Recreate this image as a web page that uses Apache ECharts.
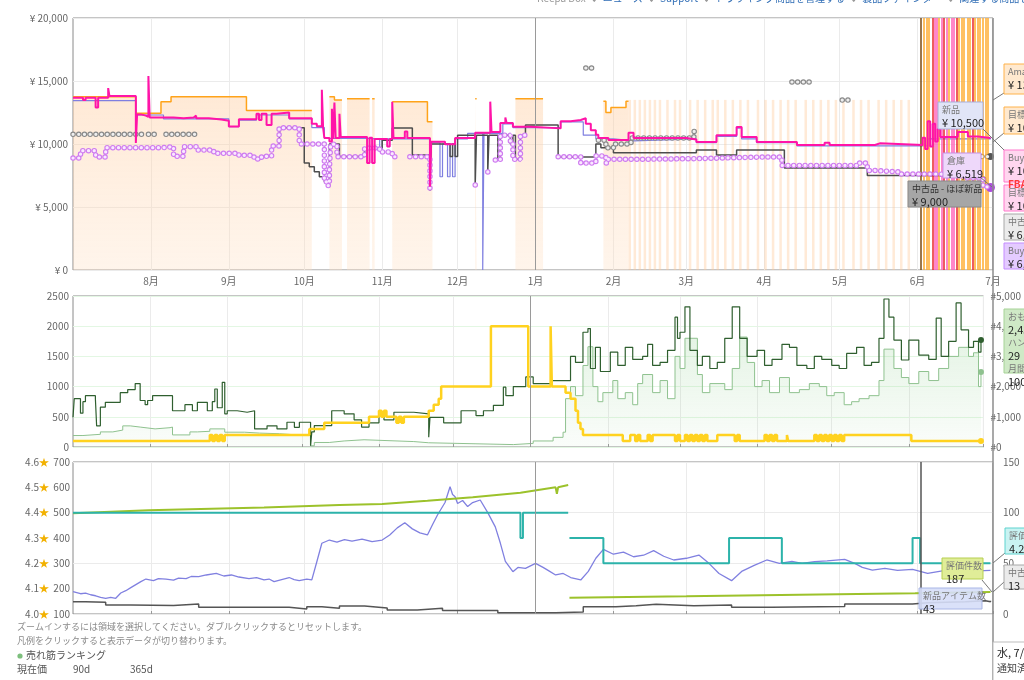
<!DOCTYPE html>
<html lang="ja">
<head>
<meta charset="UTF-8">
<title>価格推移</title>
<script src="https://cdn.jsdelivr.net/npm/echarts@6/dist/echarts.min.js"></script>
<style>
  html, body { margin: 0; padding: 0; background: #fff; overflow: hidden; }
  #chart { width: 1024px; height: 680px; }
</style>
</head>
<body>
<div id="chart"></div>
<script>
// ---- axis ticks ----
const X_MIN = '2023-07-01';
const X_MAX = '2024-07-01';
const monthTicks = ['2023-08-01', '2023-09-01', '2023-10-01', '2023-11-01', '2023-12-01', '2024-01-01',
  '2024-02-01', '2024-03-01', '2024-04-01', '2024-05-01', '2024-06-01', '2024-07-01'];
const monthLabels = ['8月', '9月', '10月', '11月', '12月', '1月', '2月', '3月', '4月', '5月', '6月', '7月'];

// ---- price panel (yen) ----
const amazonPrice = [
  ['2023-07-01', 13750], ['2023-07-26', 12450], ['2023-08-05', 13360], ['2023-08-09', 13750],
  ['2023-09-08', 12650], ['2023-10-04', 12650], ['2023-10-04', null],
  ['2023-10-11', 13750], ['2023-10-13', 13500], ['2023-10-16', 13500], ['2023-10-16', null],
  ['2023-10-18', 13600], ['2023-10-27', 13600], ['2023-10-27', null],
  ['2023-10-28', 13600], ['2023-10-29', 13600], ['2023-10-29', null],
  ['2023-11-05', 13360], ['2023-11-19', 11770], ['2023-11-21', 11770], ['2023-11-21', null],
  ['2023-12-08', 13600], ['2023-12-08 14:00', 13600], ['2023-12-08 14:00', null],
  ['2023-12-24', 13600], ['2024-01-04', 13600], ['2024-01-04', null],
  ['2024-01-28', 13400], ['2024-01-29', 12500], ['2024-01-31', 12900], ['2024-02-06', 13400],
  ['2024-02-07', 13400], ['2024-02-07', null]
];
const amazonStockStripes = [
  ['2024-02-07', '2024-02-08'], ['2024-02-09', '2024-02-10'], ['2024-02-11', '2024-02-12'], ['2024-02-13', '2024-02-14'],
  ['2024-02-15', '2024-02-16'], ['2024-02-17', '2024-02-18'], ['2024-02-19', '2024-02-20'], ['2024-02-22', '2024-02-23'],
  ['2024-02-25', '2024-02-26'], ['2024-02-27', '2024-02-28'], ['2024-03-02', '2024-03-03'], ['2024-03-05', '2024-03-06'],
  ['2024-03-08', '2024-03-09'], ['2024-03-11', '2024-03-12'], ['2024-03-13', '2024-03-14'], ['2024-03-16', '2024-03-17'],
  ['2024-03-19', '2024-03-20'], ['2024-03-22', '2024-03-23'], ['2024-03-25', '2024-03-26'], ['2024-03-29', '2024-03-30'],
  ['2024-04-01', '2024-04-02'], ['2024-04-04', '2024-04-05'], ['2024-04-07', '2024-04-08'], ['2024-04-10', '2024-04-11'],
  ['2024-04-13', '2024-04-14'], ['2024-04-17', '2024-04-18'], ['2024-04-20', '2024-04-21'], ['2024-04-23', '2024-04-24'],
  ['2024-04-26', '2024-04-27'], ['2024-04-29', '2024-04-30'], ['2024-05-02', '2024-05-03'], ['2024-05-06', '2024-05-07'],
  ['2024-05-09', '2024-05-10'], ['2024-05-12', '2024-05-13'], ['2024-05-16', '2024-05-17'], ['2024-05-19', '2024-05-20'],
  ['2024-05-22', '2024-05-23'], ['2024-05-25', '2024-05-26'], ['2024-05-28', '2024-05-29']
];
const amazonStockSpikes = ['2024-06-03 14:00', '2024-06-04 12:00', '2024-06-05 14:00', '2024-06-09 12:00',
  '2024-06-13 12:00', '2024-06-17 07:00', '2024-06-18 12:00', '2024-06-19 12:00', '2024-06-20 19:00',
  '2024-06-21 22:00', '2024-06-23 17:00', '2024-06-24 19:00', '2024-06-25 22:00', '2024-06-26 22:00',
  '2024-06-28 02:00', '2024-06-29 00:00'];
const buyBoxSpikes = ['2024-06-07 19:00', '2024-06-08 14:00', '2024-06-10 12:00', '2024-06-12 12:00',
  '2024-06-14 14:00', '2024-06-15 12:00'];
const lightningDeals = ['2024-06-06 22:00', '2024-06-11 12:00', '2024-06-16 12:00', '2024-06-22 19:00'];
const outOfStockMark = ['2024-06-02 07:00'];
const yearMark = ['2024-01-01'];

const newPrice = [
  ['2023-07-01', 13450], ['2023-07-26', 12300], ['2023-08-06', 12000], ['2023-09-01', 11380], ['2023-09-05', 11900],
  ['2023-09-12', 12300], ['2023-09-25', 12000], ['2023-10-04', 11300], ['2023-10-09', 10450], ['2023-10-26', 10400],
  ['2023-10-31', 9400], ['2023-11-01', 10400], ['2023-11-20', 10100], ['2023-11-24', 7400], ['2023-11-25', 10000],
  ['2023-11-27', 7400], ['2023-11-28', 10000], ['2023-11-29', 7400], ['2023-11-30', 10400], ['2023-12-05', 10850],
  ['2023-12-11', 0], ['2023-12-11 12:00', 10850], ['2023-12-19', 11600], ['2023-12-23', 11300], ['2024-01-11', 11750],
  ['2024-01-20', 10700], ['2024-01-25', 10400], ['2024-02-01', 10250], ['2024-02-09', 10400], ['2024-03-05', 10100],
  ['2024-03-13', 10600], ['2024-03-21', 11250], ['2024-03-23', 10400], ['2024-03-29', 10100], ['2024-04-14', 9850],
  ['2024-06-01', 9850], ['2024-06-05', 10400], ['2024-06-30', 10500]
];
const buyBoxPrice = [
  ['2023-07-01', 13680], ['2023-07-05', 13500], ['2023-07-06', 13680], ['2023-07-10', 12900], ['2023-07-11', 13680],
  ['2023-07-15', 14440], ['2023-07-15 12:00', 13800], ['2023-07-26', 10080], ['2023-07-26 12:00', 12350],
  ['2023-07-28', 12250], ['2023-07-30', 12150], ['2023-07-31', 15400], ['2023-07-31 12:00', 12100],
  ['2023-08-10', 12050], ['2023-08-14', 12100], ['2023-08-18', 12250], ['2023-08-19', 12050], ['2023-08-24', 11950],
  ['2023-08-29', 11850], ['2023-09-01', 11380], ['2023-09-05', 11960], ['2023-09-12', 12400], ['2023-09-13', 11900],
  ['2023-09-14', 12400], ['2023-09-16', 11500], ['2023-09-18', 12400], ['2023-09-20', 12500], ['2023-09-25', 12040],
  ['2023-10-04', 11600], ['2023-10-06', 11400], ['2023-10-08', 14300], ['2023-10-08 12:00', 11300],
  ['2023-10-09', 10480], ['2023-10-11', 10200], ['2023-10-12', 12800], ['2023-10-12 12:00', 10400],
  ['2023-10-13', 13300], ['2023-10-13 12:00', 10480], ['2023-10-15', 12400], ['2023-10-15 12:00', 10550],
  ['2023-10-26', 8500], ['2023-10-27', 10500], ['2023-10-28', 8500], ['2023-10-29', 10400], ['2023-11-03', 9800],
  ['2023-11-04', 10400], ['2023-11-05', 13360], ['2023-11-05 12:00', 10480], ['2023-11-10', 11000],
  ['2023-11-11', 10480], ['2023-11-20', 6600], ['2023-11-20 12:00', 10180], ['2023-11-26', 9990],
  ['2023-11-30', 10480], ['2023-12-08', 10900], ['2023-12-14', 13360], ['2023-12-14 12:00', 10950],
  ['2023-12-18', 11660], ['2023-12-20', 12100], ['2023-12-20 12:00', 11660], ['2023-12-23', 11370],
  ['2023-12-30', 11240], ['2024-01-11', 11800], ['2024-01-15', 11900], ['2024-01-19', 12040], ['2024-01-21', 11600],
  ['2024-01-23', 11100], ['2024-01-25', 10740], ['2024-01-26', 10480], ['2024-01-30', 10320], ['2024-02-07', 10900],
  ['2024-02-09', 10480], ['2024-03-01', 10350], ['2024-03-05', 10160], ['2024-03-13', 10700], ['2024-03-21', 11350],
  ['2024-03-23', 10550], ['2024-03-29', 10160], ['2024-04-14', 9920], ['2024-04-25', 10100], ['2024-04-27', 9920],
  ['2024-05-15', 10050], ['2024-05-17', 9920], ['2024-06-03', 10500], ['2024-06-04', 9600], ['2024-06-05', 11800],
  ['2024-06-06', 9800], ['2024-06-07', 11600], ['2024-06-08', 10200], ['2024-06-09', 11200], ['2024-06-10', 10560],
  ['2024-06-17', 10950], ['2024-06-21', 10600], ['2024-06-25', 10480], ['2024-06-30', 10480]
];
const usedPrice = [
  ['2023-09-21', 10000], ['2023-09-21 06:00', 11290], ['2023-09-29', 11290], ['2023-10-01', 8500],
  ['2023-10-03', 8200], ['2023-10-05', 7800], ['2023-10-07', 7400], ['2023-10-09', 7000], ['2023-10-10', 6750],
  ['2023-10-11', 10000], ['2023-10-15', 9000], ['2023-10-25', 9700], ['2023-11-01', 10300], ['2023-11-05', 11270],
  ['2023-11-13', 9130], ['2023-11-20', 6300], ['2023-11-20 12:00', 10000], ['2023-11-28', 9000],
  ['2023-11-29', 10000], ['2023-11-30', 9000], ['2023-12-01', 10690], ['2023-12-08', 6750],
  ['2023-12-08 12:00', 10700], ['2023-12-13', 7780], ['2023-12-13 12:00', 10700], ['2023-12-17', 8730],
  ['2023-12-18', 10700], ['2023-12-22', 10000], ['2023-12-23', 10700], ['2023-12-24', 8780], ['2023-12-26', 10700],
  ['2023-12-28', 11500], ['2024-01-10', 8970], ['2024-01-25', 10000], ['2024-01-27', 9700], ['2024-02-01', 9300],
  ['2024-03-05', 9520], ['2024-03-13', 9130], ['2024-03-21', 9520], ['2024-04-09', 8100], ['2024-05-12', 7500],
  ['2024-06-01', 7400], ['2024-06-27', 7300], ['2024-06-28', 6550], ['2024-06-30', 6550]
];
const usedLikeNewPrice = [
  ['2023-07-01', 10770], ['2023-07-30', 10770], ['2023-07-30', null], ['2023-07-31', 10770], ['2023-08-04', 10770],
  ['2023-08-04', null], ['2023-08-07', 10770], ['2023-08-19', 10770], ['2023-08-19', null],
  ['2024-01-21', 16030], ['2024-01-25', 16030], ['2024-01-25', null],
  ['2024-01-26', 10300], ['2024-01-29', 9700], ['2024-02-01', 10000], ['2024-02-08', 10480], ['2024-03-04', 10480],
  ['2024-03-04', 11000], ['2024-03-05', 11000], ['2024-03-05', null],
  ['2024-04-12', 14920], ['2024-04-20', 14920], ['2024-04-20', null],
  ['2024-05-02', 13490], ['2024-05-06', 13490], ['2024-05-06', null],
  ['2024-06-22', 9000], ['2024-06-30', 9000]
];
const warehousePrice = [
  ['2023-07-01', 8890], ['2023-07-04', 9470], ['2023-07-10', 8970], ['2023-07-14', 9710], ['2023-08-06', 9790],
  ['2023-08-10', 9020], ['2023-08-14', 9790], ['2023-08-19', 9520], ['2023-08-26', 9260], ['2023-09-05', 9100],
  ['2023-09-11', 8810], ['2023-09-14', 9020], ['2023-09-18', 9840], ['2023-09-21', 11290], ['2023-09-29', 10000],
  ['2023-10-09', 7000], ['2023-10-10', 6700], ['2023-10-11', 8000], ['2023-10-11 12:00', 9990], ['2023-10-14', 8990],
  ['2023-10-25', 9680], ['2023-10-31', 9370], ['2023-11-05', 8990], ['2023-11-07', 8990], ['2023-11-07', null],
  ['2023-11-12', 8990], ['2023-11-20', 6300], ['2023-11-21', 6300], ['2023-11-21', null],
  ['2023-12-08', 6750], ['2023-12-09', 6750], ['2023-12-09', null],
  ['2023-12-13', 7780], ['2023-12-14', 7780], ['2023-12-14', null],
  ['2023-12-16', 8730], ['2023-12-18', 10700], ['2023-12-22', 10000], ['2023-12-23', 8780], ['2023-12-26', 10700],
  ['2023-12-29', 10700], ['2023-12-29', null],
  ['2024-01-10', 8990], ['2024-01-19', 8490], ['2024-01-25', 9050], ['2024-01-29', 8500], ['2024-01-30', 8790],
  ['2024-02-13', 8840], ['2024-03-05', 8970], ['2024-04-01', 8970], ['2024-04-08', 8300], ['2024-05-08', 8490],
  ['2024-05-12', 7900], ['2024-05-15', 7780], ['2024-05-25', 7620], ['2024-06-09', 7500], ['2024-06-20', 7300],
  ['2024-06-27', 6600], ['2024-06-30', 6550]
];

// ---- sales rank panel ----
const categoryRank = [
  ['2023-07-01', 980], ['2023-07-01 12:00', 1600], ['2023-07-04', 1120], ['2023-07-05', 1500], ['2023-07-06', 1700],
  ['2023-07-10', 1600], ['2023-07-10 12:00', 700], ['2023-07-12', 1320], ['2023-07-14', 1480], ['2023-07-20', 1800],
  ['2023-07-23', 1900], ['2023-07-26', 2100], ['2023-07-28', 1540], ['2023-07-30', 1400], ['2023-07-31', 1540],
  ['2023-08-02', 1700], ['2023-08-10', 1200], ['2023-08-15', 1400], ['2023-08-18', 1200], ['2023-08-20', 1480],
  ['2023-08-24', 1200], ['2023-08-26', 1500], ['2023-08-27', 1920], ['2023-08-28', 1300], ['2023-08-30', 2140],
  ['2023-08-31', 1100], ['2023-09-01', 1200], ['2023-09-05', 1150], ['2023-09-09', 1200], ['2023-09-12', 600],
  ['2023-09-17', 700], ['2023-09-21', 600], ['2023-09-25', 820], ['2023-09-28', 650], ['2023-09-30', 820],
  ['2023-10-04 12:00', 40], ['2023-10-05', 500], ['2023-10-06', 710], ['2023-10-13', 1200], ['2023-10-18', 1100],
  ['2023-10-22', 900], ['2023-10-25', 660], ['2023-10-28', 800], ['2023-11-01', 1040], ['2023-11-03', 900],
  ['2023-11-07', 1150], ['2023-11-15', 1100], ['2023-11-21', 320], ['2023-11-21 12:00', 980], ['2023-11-27', 800],
  ['2023-12-04', 1200], ['2023-12-10', 1040], ['2023-12-13', 1200], ['2023-12-17', 1380], ['2023-12-21', 1980],
  ['2023-12-22', 1700], ['2023-12-25', 2000], ['2023-12-30', 2320], ['2024-01-02', 2100], ['2024-01-09', 2200],
  ['2024-01-17', 3000], ['2024-01-19', 2800], ['2024-01-22', 3800], ['2024-01-24', 3920], ['2024-01-25', 2600],
  ['2024-01-27', 3300], ['2024-01-29', 2500], ['2024-02-02', 3140], ['2024-02-05', 2700], ['2024-02-08', 3300],
  ['2024-02-11', 2900], ['2024-02-15', 3000], ['2024-02-17', 3400], ['2024-02-19', 2700], ['2024-02-22', 2800],
  ['2024-02-25', 3200], ['2024-02-28', 4300], ['2024-02-29', 3600], ['2024-03-01', 3800], ['2024-03-03', 4640],
  ['2024-03-05', 3200], ['2024-03-08', 2700], ['2024-03-10', 3000], ['2024-03-13', 2600], ['2024-03-16', 2800],
  ['2024-03-19', 3600], ['2024-03-22', 4640], ['2024-03-25', 3600], ['2024-03-28', 3000], ['2024-04-01', 3200],
  ['2024-04-04', 2700], ['2024-04-07', 2900], ['2024-04-11', 3400], ['2024-04-14', 3300], ['2024-04-17', 2700],
  ['2024-04-21', 2600], ['2024-04-24', 3000], ['2024-04-27', 2900], ['2024-05-01', 2700], ['2024-05-04', 2600],
  ['2024-05-07', 3100], ['2024-05-11', 3300], ['2024-05-14', 2700], ['2024-05-17', 2800], ['2024-05-20', 3600],
  ['2024-05-22', 4900], ['2024-05-24', 4300], ['2024-05-26', 3540], ['2024-05-29', 2880], ['2024-06-01', 3540],
  ['2024-06-05', 3040], ['2024-06-09', 2900], ['2024-06-12', 4270], ['2024-06-14', 3000], ['2024-06-17', 3500],
  ['2024-06-20', 4770], ['2024-06-22', 3880], ['2024-06-25', 3300], ['2024-06-27', 3500], ['2024-06-29', 3140],
  ['2024-06-30', 3540]
];
const subRank = [
  ['2023-07-01', 380], ['2023-07-05', 420], ['2023-07-12', 500], ['2023-07-17', 560], ['2023-07-21', 700],
  ['2023-07-24', 660], ['2023-07-28', 600], ['2023-08-03', 640], ['2023-08-09', 660], ['2023-08-10', 400],
  ['2023-08-17', 500], ['2023-08-20', 520], ['2023-08-25', 600], ['2023-08-31', 490], ['2023-09-08', 460],
  ['2023-09-14', 440], ['2023-09-22', 400], ['2023-09-29', 380], ['2023-10-04 12:00', 40], ['2023-10-06', 150],
  ['2023-10-12', 200], ['2023-10-18', 240], ['2023-10-26', 180], ['2023-11-15', 140], ['2023-11-21', 80],
  ['2023-12-25', 120], ['2024-01-02', 200], ['2024-01-10', 320], ['2024-01-14', 490], ['2024-01-15', 1600],
  ['2024-01-17', 2000], ['2024-01-19', 1700], ['2024-01-22', 2700], ['2024-01-24', 3320], ['2024-01-26', 2000],
  ['2024-01-28', 1500], ['2024-01-30', 1800], ['2024-02-03', 2200], ['2024-02-05', 1600], ['2024-02-08', 1800],
  ['2024-02-11', 1400], ['2024-02-13', 2100], ['2024-02-15', 2400], ['2024-02-19', 1800], ['2024-02-22', 2200],
  ['2024-02-25', 1600], ['2024-02-28', 3000], ['2024-03-01', 2600], ['2024-03-03', 3600], ['2024-03-08', 2400],
  ['2024-03-10', 1800], ['2024-03-13', 2100], ['2024-03-19', 1900], ['2024-03-22', 2600], ['2024-03-25', 3640],
  ['2024-03-28', 2800], ['2024-03-31', 2000], ['2024-04-03', 2200], ['2024-04-06', 1800], ['2024-04-10', 2300],
  ['2024-04-14', 1800], ['2024-04-18', 1900], ['2024-04-22', 2100], ['2024-04-26', 2000], ['2024-04-29', 1700],
  ['2024-05-02', 1800], ['2024-05-06', 1400], ['2024-05-09', 1500], ['2024-05-12', 1600], ['2024-05-16', 1700],
  ['2024-05-20', 2200], ['2024-05-22', 3240], ['2024-05-26', 2600], ['2024-05-29', 2300], ['2024-06-01', 2100],
  ['2024-06-05', 2500], ['2024-06-09', 2200], ['2024-06-13', 2600], ['2024-06-17', 3000], ['2024-06-21', 3300],
  ['2024-06-25', 3000], ['2024-06-27', 3120], ['2024-06-29', 2000], ['2024-06-30', 2480]
];
const monthlySold = [
  ['2023-07-01', 100], ['2023-08-25', 200], ['2023-08-26', 100], ['2023-08-27', 200], ['2023-08-28', 100],
  ['2023-08-29', 200], ['2023-08-30', 100], ['2023-08-31', 200], ['2023-10-04', 300], ['2023-10-10', 400],
  ['2023-10-28', 500], ['2023-11-01', 600], ['2023-11-02', 500], ['2023-11-03', 600], ['2023-11-04', 500],
  ['2023-11-08', 400], ['2023-11-09', 500], ['2023-11-10', 400], ['2023-11-11', 500], ['2023-11-21', 600],
  ['2023-11-23', 700], ['2023-11-25', 800], ['2023-11-26', 1000], ['2023-12-16', 2000], ['2023-12-31', 1000],
  ['2024-01-09', 2000], ['2024-01-09 12:00', 1000], ['2024-01-15', 900], ['2024-01-17', 800], ['2024-01-19', 600],
  ['2024-01-20', 400], ['2024-01-21', 300], ['2024-01-22', 200], ['2024-02-07', 100], ['2024-02-10', 200],
  ['2024-02-12', 100], ['2024-02-13', 200], ['2024-02-14', 100], ['2024-02-17', 200], ['2024-02-18', 100],
  ['2024-02-19', 200], ['2024-02-28', 100], ['2024-02-29', 200], ['2024-03-01', 100], ['2024-03-03', 200],
  ['2024-03-04', 100], ['2024-03-05', 200], ['2024-03-06', 100], ['2024-03-07', 200], ['2024-03-08', 100],
  ['2024-03-09', 200], ['2024-03-10', 100], ['2024-03-11', 200], ['2024-03-12', 100], ['2024-03-16', 200],
  ['2024-03-23', 100], ['2024-03-24', 200], ['2024-03-25', 100], ['2024-04-04', 200], ['2024-04-05', 100],
  ['2024-04-06', 200], ['2024-04-07', 100], ['2024-04-08', 200], ['2024-04-09', 100], ['2024-04-13', 200],
  ['2024-04-13 12:00', 100], ['2024-04-24', 200], ['2024-04-25', 100], ['2024-04-26', 200], ['2024-04-27', 100],
  ['2024-04-28', 200], ['2024-04-29', 100], ['2024-04-30', 200], ['2024-05-01', 100], ['2024-05-02', 200],
  ['2024-05-03', 100], ['2024-05-04', 200], ['2024-05-05', 100], ['2024-05-06', 200], ['2024-06-02', 100],
  ['2024-06-30', 100]
];

// ---- reviews / offers panel ----
const ratingCount = [
  ['2023-07-01', 498], ['2023-07-31', 510], ['2023-09-15', 520], ['2023-10-15', 530], ['2023-11-01', 534],
  ['2023-11-19', 547], ['2023-12-07', 561], ['2023-12-26', 579], ['2024-01-09', 600], ['2024-01-09 12:00', 574],
  ['2024-01-10', 600], ['2024-01-14', 609], ['2024-01-14', null],
  ['2024-01-14 12:00', 164], ['2024-03-01', 170], ['2024-04-15', 176], ['2024-05-31', 182], ['2024-06-30', 187]
];
const rating = [
  ['2023-07-01', 4.4], ['2023-12-26', 4.3], ['2023-12-27', 4.4], ['2024-01-14', 4.4], ['2024-01-14', null],
  ['2024-01-14 12:00', 4.3], ['2024-01-28', 4.2], ['2024-03-18', 4.3], ['2024-04-08', 4.2], ['2024-05-30', 4.3],
  ['2024-06-02', 4.2], ['2024-06-30', 4.2]
];
const newOfferCount = [
  ['2023-07-01', 22], ['2023-07-04', 20], ['2023-07-06', 20.7], ['2023-07-08', 19], ['2023-07-10', 18],
  ['2023-07-12', 16.5], ['2023-07-14', 15.5], ['2023-07-16', 16.3], ['2023-07-18', 15.5], ['2023-07-20', 20.7],
  ['2023-07-22', 23], ['2023-07-24', 26], ['2023-07-26', 29], ['2023-07-28', 32], ['2023-07-30', 34.5],
  ['2023-08-02', 33], ['2023-08-04', 35], ['2023-08-07', 34.5], ['2023-08-10', 33.5], ['2023-08-12', 35.5],
  ['2023-08-15', 35], ['2023-08-17', 37], ['2023-08-20', 36.8], ['2023-08-23', 38.5], ['2023-08-27', 40],
  ['2023-08-30', 37.5], ['2023-09-02', 38.5], ['2023-09-05', 36.5], ['2023-09-09', 35], ['2023-09-12', 36],
  ['2023-09-15', 33.6], ['2023-09-17', 34.5], ['2023-09-19', 32], ['2023-09-22', 34], ['2023-09-25', 36],
  ['2023-09-27', 34], ['2023-09-29', 33], ['2023-10-02', 34.5], ['2023-10-04', 33.6], ['2023-10-06', 51.6],
  ['2023-10-08', 69.8], ['2023-10-11', 73], ['2023-10-14', 71], ['2023-10-17', 73.5], ['2023-10-20', 72],
  ['2023-10-24', 74], ['2023-10-28', 71.5], ['2023-11-01', 73], ['2023-11-04', 78], ['2023-11-07', 85],
  ['2023-11-10', 90], ['2023-11-13', 84], ['2023-11-16', 80], ['2023-11-19', 78], ['2023-11-21', 88],
  ['2023-11-23', 97.7], ['2023-11-26', 110], ['2023-11-28', 125.6], ['2023-11-29', 118], ['2023-11-30', 115.8],
  ['2023-12-01', 109], ['2023-12-03', 112], ['2023-12-05', 106], ['2023-12-07', 110], ['2023-12-10', 112.5],
  ['2023-12-13', 100], ['2023-12-16', 86], ['2023-12-18', 70], ['2023-12-20', 52], ['2023-12-23', 41.7],
  ['2023-12-25', 46], ['2023-12-28', 45], ['2024-01-01', 50], ['2024-01-04', 46], ['2024-01-06', 43],
  ['2024-01-09', 38.5], ['2024-01-12', 40], ['2024-01-15', 36], ['2024-01-19', 33.6], ['2024-01-22', 42],
  ['2024-01-25', 55], ['2024-01-28', 63.8], ['2024-02-01', 59], ['2024-02-05', 61], ['2024-02-09', 56.5],
  ['2024-02-13', 58], ['2024-02-17', 62.5], ['2024-02-21', 57], ['2024-02-25', 53.3], ['2024-03-01', 55],
  ['2024-03-06', 58.2], ['2024-03-10', 50], ['2024-03-14', 40], ['2024-03-19', 32.9], ['2024-03-23', 42],
  ['2024-03-28', 48], ['2024-04-02', 53.3], ['2024-04-07', 50], ['2024-04-12', 52], ['2024-04-16', 50],
  ['2024-04-21', 51.6], ['2024-04-26', 52.5], ['2024-05-03', 54], ['2024-05-07', 50], ['2024-05-10', 46],
  ['2024-05-14', 43.4], ['2024-05-19', 45], ['2024-05-24', 43], ['2024-05-30', 44], ['2024-06-05', 40],
  ['2024-06-12', 43], ['2024-06-20', 42], ['2024-06-30', 43]
];
const usedOfferCount = [
  ['2023-07-01', 12], ['2023-07-06', 11.5], ['2023-07-14', 8.9], ['2023-07-24', 8.5], ['2023-08-10', 9.9],
  ['2023-08-20', 6.6], ['2023-09-25', 4.9], ['2023-10-02', 7.2], ['2023-10-08', 5.6], ['2023-10-15', 7.9],
  ['2023-10-25', 6], ['2023-11-03', 4], ['2023-11-15', 5.6], ['2023-11-25', 3.5], ['2023-12-17', 1.3],
  ['2024-01-09', 2], ['2024-01-20', 7.2], ['2024-02-02', 8.2], ['2024-02-10', 9.5], ['2024-02-18', 8.2],
  ['2024-03-04', 9], ['2024-03-19', 6.6], ['2024-04-04', 7.5], ['2024-05-03', 9.9], ['2024-05-30', 11.2],
  ['2024-06-05', 12], ['2024-06-20', 13], ['2024-06-28', 12], ['2024-06-30', 13]
];

// ---- build ----
const chart = echarts.init(document.getElementById('chart'), null, { renderer: 'canvas' });
const FONT = '"Noto Sans CJK JP", "Noto Sans", sans-serif';
// dates become timestamps on a numeric x axis, so custom month ticks can be used
const ts = s => echarts.time.parse(s).getTime();
const toXY = arr => arr.map(p => [ts(p[0]), p[1]]);
const tickValues = monthTicks.map(ts);
const last = arr => arr[arr.length - 1];

function monthAxis(gridIndex, showLabels) {
  return {
    type: 'value', gridIndex: gridIndex, min: ts(X_MIN), max: ts(X_MAX),
    axisLine: { show: false },
    axisTick: { show: !showLabels, inside: true, length: 3, customValues: tickValues, lineStyle: { color: '#999' } },
    axisLabel: {
      show: showLabels, customValues: tickValues, color: '#666', fontSize: 10, margin: 6,
      formatter: function (val) {
        const i = tickValues.indexOf(val);
        return i >= 0 ? monthLabels[i] : '';
      }
    },
    splitLine: { show: true, lineStyle: { color: '#ebebeb', width: 1 } }
  };
}

function vLines(dates, color, width) {
  return dates.map(d => ({ xAxis: ts(d), lineStyle: { color: color, width: width, type: 'solid' } }));
}
const yearLine = vLines(yearMark, '#9a9a9a', 1);
function ringSeries(name, data, outer, inner, z) {
  const base = { type: 'line', step: 'end', xAxisIndex: 0, yAxisIndex: 0, symbol: 'none', connectNulls: false, silent: true };
  return [
    Object.assign({}, base, { name: name, data: toXY(data), z: z, lineStyle: { color: outer, width: 5.5, type: [0.1, 5.6], cap: 'round' } }),
    Object.assign({}, base, { name: name + '-inner', data: toXY(data), z: z + 1, lineStyle: { color: inner, width: 3.2, type: [0.1, 5.6], cap: 'round' } })
  ];
}
function endDot(arr, color, size) {
  const p = last(arr);
  return { silent: true, symbol: 'circle', symbolSize: size, itemStyle: { color: color }, label: { show: false },
    data: [{ coord: [ts(p[0]), p[1]] }] };
}

const boxRich = {
  l: { fontSize: 9, fill: '#777', fontFamily: FONT, lineHeight: 12 },
  k: { fontSize: 9, fill: '#333', fontFamily: FONT, lineHeight: 12 },
  v: { fontSize: 11, fill: '#222', fontFamily: FONT, lineHeight: 14 },
  f: { fontSize: 10, fill: '#ff3b3b', fontFamily: FONT, fontWeight: 'bold', lineHeight: 12 },
  d: { fontSize: 11, fill: '#222', fontFamily: FONT, lineHeight: 17 },
  n: { fontSize: 10, fill: '#444', fontFamily: FONT, lineHeight: 15 }
};
function box(x, y, w, h, fill, stroke, text) {
  return {
    type: 'group', x: x, y: y, z: 100, silent: true,
    children: [
      { type: 'rect', z: 100, shape: { x: 0, y: 0, width: w, height: h }, style: { fill: fill, stroke: stroke, lineWidth: 1 } },
      { type: 'text', z: 101, x: 4, y: 2, style: { text: text, rich: boxRich, fill: '#222', fontFamily: FONT } }
    ]
  };
}
function seg(x1, y1, x2, y2, color, width) {
  return { type: 'line', z: 99, silent: true, shape: { x1: x1, y1: y1, x2: x2, y2: y2 }, style: { stroke: color || '#777', lineWidth: width || 1 } };
}
function label(x, y, text, size, color) {
  return { type: 'text', x: x, y: y, z: 100, silent: true, style: { text: text, fontSize: size, fill: color, fontFamily: FONT } };
}

const option = {
  animation: false,
  textStyle: { fontFamily: FONT },
  grid: [
    { left: 73, right: 31, top: 18, height: 252, show: true, borderColor: '#8a8a8a', borderWidth: 1 },
    { left: 73, right: 31, top: 296, height: 151, show: true, borderColor: '#8a8a8a', borderWidth: 1 },
    { left: 73, right: 31, top: 462, height: 152, show: true, borderColor: '#8a8a8a', borderWidth: 1 }
  ],
  xAxis: [monthAxis(0, true), monthAxis(1, false), monthAxis(2, false)],
  yAxis: [
    { type: 'value', gridIndex: 0, min: 0, max: 20000, interval: 5000, axisLine: { show: false }, axisTick: { show: false },
      axisLabel: { color: '#666', fontSize: 10, margin: 5, formatter: v => '¥ ' + echarts.format.addCommas(v) },
      splitLine: { lineStyle: { color: '#ebebeb' } } },
    { type: 'value', gridIndex: 1, position: 'left', min: 0, max: 2500, interval: 500, axisLine: { show: false },
      axisTick: { show: false }, axisLabel: { color: '#666', fontSize: 10, margin: 4, formatter: v => String(v) },
      splitLine: { lineStyle: { color: '#e3f7e3' } } },
    { type: 'value', gridIndex: 1, position: 'right', min: 0, max: 5000, interval: 1000, axisLine: { show: false },
      axisTick: { show: false }, splitLine: { show: false },
      axisLabel: { color: '#666', fontSize: 10, margin: 7, formatter: v => '#' + echarts.format.addCommas(v) } },
    { type: 'value', gridIndex: 2, position: 'left', min: 100, max: 700, interval: 100, axisLine: { show: false },
      axisTick: { show: false }, splitLine: { show: false },
      axisLabel: { color: '#666', fontSize: 10, margin: 3, formatter: v => String(v) } },
    { type: 'value', gridIndex: 2, position: 'left', min: 4.0, max: 4.6, interval: 0.1, offset: 22, axisLine: { show: false },
      axisTick: { show: false }, splitLine: { show: false },
      axisLabel: { margin: 2, formatter: v => '{n|' + v.toFixed(1) + '}{s|★}',
        rich: { n: { color: '#666', fontSize: 10 }, s: { color: '#f2b100', fontSize: 10 } } } },
    { type: 'value', gridIndex: 2, position: 'right', min: 0, max: 150, interval: 50, axisLine: { show: false },
      axisTick: { show: false }, axisLabel: { color: '#666', fontSize: 10, margin: 10 },
      splitLine: { lineStyle: { color: '#ebebeb' } } }
  ],
  series: [
    {
      name: 'Amazon', type: 'line', step: 'end', xAxisIndex: 0, yAxisIndex: 0, data: toXY(amazonPrice), symbol: 'none',
      connectNulls: false, z: 1, silent: true,
      lineStyle: { color: '#ffa31a', width: 1.5 },
      areaStyle: { color: new echarts.graphic.LinearGradient(0, 0, 0, 1, [
        { offset: 0, color: 'rgba(255, 205, 160, 0.62)' }, { offset: 1, color: 'rgba(255, 222, 192, 0.45)' }]) },
      markArea: { silent: true, itemStyle: { color: 'rgba(255, 200, 150, 0.38)' },
        data: amazonStockStripes.map(p => [{ xAxis: ts(p[0]), yAxis: 0 }, { xAxis: ts(p[1]), yAxis: 13500 }]) },
      markLine: { silent: true, symbol: 'none', label: { show: false }, animation: false,
        data: yearLine
          .concat(vLines(amazonStockSpikes, '#ffab2e', 1.5))
          .concat(vLines(buyBoxSpikes, '#ff5fb8', 1.5))
          .concat(vLines(lightningDeals, '#e8262b', 1.5))
          .concat(vLines(outOfStockMark, '#7a4a12', 1.5)) }
    },
    { name: '新品', type: 'line', step: 'end', xAxisIndex: 0, yAxisIndex: 0, data: toXY(newPrice), symbol: 'none', z: 2,
      silent: true, lineStyle: { color: '#7f7fe0', width: 1.2 } },
    { name: '中古', type: 'line', step: 'end', xAxisIndex: 0, yAxisIndex: 0, data: toXY(usedPrice), symbol: 'none', z: 3,
      silent: true, lineStyle: { color: '#4d4d4d', width: 1.5 }, markPoint: endDot(usedLikeNewPrice, '#555', 7) },
    ...ringSeries('中古品 - ほぼ新品', usedLikeNewPrice, '#8a8a8a', '#efefef', 4),
    ...ringSeries('倉庫', warehousePrice, '#cf7cf0', '#fae8ff', 6),
    { name: 'Buy Box', type: 'line', step: 'end', xAxisIndex: 0, yAxisIndex: 0, data: toXY(buyBoxPrice), symbol: 'none', z: 9,
      silent: true, lineStyle: { color: '#ff14a8', width: 2 }, markPoint: endDot(warehousePrice, '#b04de0', 9) },

    { name: 'サブカテゴリ', type: 'line', step: 'end', xAxisIndex: 1, yAxisIndex: 2, data: toXY(subRank), symbol: 'none', z: 1,
      silent: true, lineStyle: { color: '#8fc28f', width: 1 },
      areaStyle: { color: new echarts.graphic.LinearGradient(0, 0, 0, 1, [
        { offset: 0, color: 'rgba(140, 205, 140, 0.32)' }, { offset: 1, color: 'rgba(140, 205, 140, 0.06)' }]) },
      markLine: { silent: true, symbol: 'none', label: { show: false }, data: yearLine },
      markPoint: endDot(subRank, '#8fc28f', 6) },
    { name: 'おもちゃ', type: 'line', step: 'end', xAxisIndex: 1, yAxisIndex: 2, data: toXY(categoryRank), symbol: 'none', z: 2,
      silent: true, lineStyle: { color: '#2f5f2f', width: 1.2 }, markPoint: endDot(categoryRank, '#2f5f2f', 6) },
    { name: '月間販売数', type: 'line', step: 'end', xAxisIndex: 1, yAxisIndex: 1, data: toXY(monthlySold), symbol: 'none', z: 3,
      silent: true, lineStyle: { color: '#ffd21f', width: 2.5 }, markPoint: endDot(monthlySold, '#ffd21f', 6) },

    { name: '評価件数', type: 'line', xAxisIndex: 2, yAxisIndex: 3, data: toXY(ratingCount), symbol: 'none', z: 2,
      connectNulls: false, silent: true, lineStyle: { color: '#9cc22b', width: 2 },
      markLine: { silent: true, symbol: 'none', label: { show: false },
        data: yearLine.concat(vLines(outOfStockMark, '#555', 1.5)) } },
    { name: '評価', type: 'line', step: 'end', xAxisIndex: 2, yAxisIndex: 4, data: toXY(rating), symbol: 'none', z: 3,
      connectNulls: false, silent: true, lineStyle: { color: '#2cb3aa', width: 2 } },
    { name: '新品アイテム数', type: 'line', xAxisIndex: 2, yAxisIndex: 5, data: toXY(newOfferCount), symbol: 'none', z: 1,
      silent: true, lineStyle: { color: '#8080e0', width: 1.3 } },
    { name: '中古アイテム数', type: 'line', step: 'end', xAxisIndex: 2, yAxisIndex: 5, data: toXY(usedOfferCount), symbol: 'none',
      z: 2, silent: true, lineStyle: { color: '#555', width: 1.5 } }
  ],
  graphic: [
    // site menu, cut off at the top
    { type: 'text', x: 537, y: -7, silent: true, style: {
      text: '{g|Keepa Box}{s|  ❖  }{b|ニュース}{s|  ❖  }{b|Support}{s|  ❖  }{b|トラッキング商品を管理する}{s|  ❖  }{b|製品ファインダー}{s|  ❖  }{b|関連する商品を探す}{s|  ❖}',
      rich: { g: { fill: '#999', fontSize: 10, fontFamily: FONT }, b: { fill: '#2f6db5', fontSize: 10, fontFamily: FONT },
        s: { fill: '#999', fontSize: 9, fontFamily: FONT } } } },
    // cursor line at the right edge
    seg(993, 18, 993, 680, '#8c8c8c', 1.5),
    // right-hand legend boxes (cut off by the window)
    box(1004, 64, 44, 30, '#ffe9cf', '#ffb24a', '{l|Amazon}\n{v|¥ 13,750}'),
    box(1004, 107, 44, 27, '#ffe9cf', '#ffb24a', '{l|目標価格}\n{v|¥ 10,000}'),
    box(1004, 150, 44, 32, '#ffd6ef', '#ff79cc', '{l|Buy Box}\n{v|¥ 10,480}\n{f|FBA}'),
    box(1004, 185, 44, 26, '#ffd6ef', '#ff79cc', '{l|目標価格}\n{v|¥ 10,000}'),
    box(1004, 214, 44, 26, '#ebebeb', '#a8a8a8', '{l|中古}\n{v|¥ 6,550}'),
    box(1004, 243, 44, 26, '#e4cbff', '#c48cff', '{l|Buy Box 中古}\n{v|¥ 6,519}'),
    box(1004, 309, 44, 64, '#cfe9c6', '#a6d396', '{l|おもちゃ}\n{v|2,438}\n{l|ハンドスピナー}\n{v|29}\n{l|月間販売数}\n{v|100+}'),
    box(1005, 528, 44, 26, '#c9f3f2', '#5fd3cf', '{l|評価}\n{v|4.2}'),
    box(1004, 565, 44, 24, '#ebebeb', '#a8a8a8', '{l|中古}\n{v|13}'),
    // labels inside the plots
    box(938, 102, 45, 27, '#e1e5f7', '#a8afdb', '{l|新品}\n{v|¥ 10,500}'),
    box(943, 153, 38, 25, '#eed8fa', '#c590e6', '{l|倉庫}\n{v|¥ 6,519}'),
    box(908, 181, 73, 26, '#a6a6a6', '#8a8a8a', '{k|中古品 - ほぼ新品}\n{v|¥ 9,000}'),
    box(942, 558, 41, 21, '#e0ed98', '#b6cf50', '{l|評価件数}\n{v|187}'),
    box(919, 588, 63, 21, 'rgba(214, 222, 248, 0.9)', '#a9b6e6', '{l|新品アイテム数}\n{v|43}'),
    box(993, 642, 50, 40, '#ffffff', '#bdbdbd', '{d|水, 7/3}\n{n|通知済}'),
    // connectors
    seg(993, 100, 1004, 93), seg(993, 142, 1004, 133), seg(982, 128, 1004, 150), seg(980, 177, 992, 187),
    seg(993, 563, 1005, 553), seg(982, 580, 992, 592), seg(993, 592, 1004, 582),
    // footer
    label(17, 622, 'ズームインするには領域を選択してください。ダブルクリックするとリセットします。', 9, '#8a8a8a'),
    label(17, 636, '凡例をクリックすると表示データが切り替わります。', 9, '#8a8a8a'),
    { type: 'circle', silent: true, shape: { cx: 20, cy: 656, r: 2.6 }, style: { fill: '#7dbf7d' } },
    label(26, 650, '売れ筋ランキング', 10, '#555'),
    label(17, 664, '現在価', 10, '#555'),
    label(73, 664, '90d', 10, '#555'),
    label(130, 664, '365d', 10, '#555')
  ]
};

chart.setOption(option);
</script>
</body>
</html>
